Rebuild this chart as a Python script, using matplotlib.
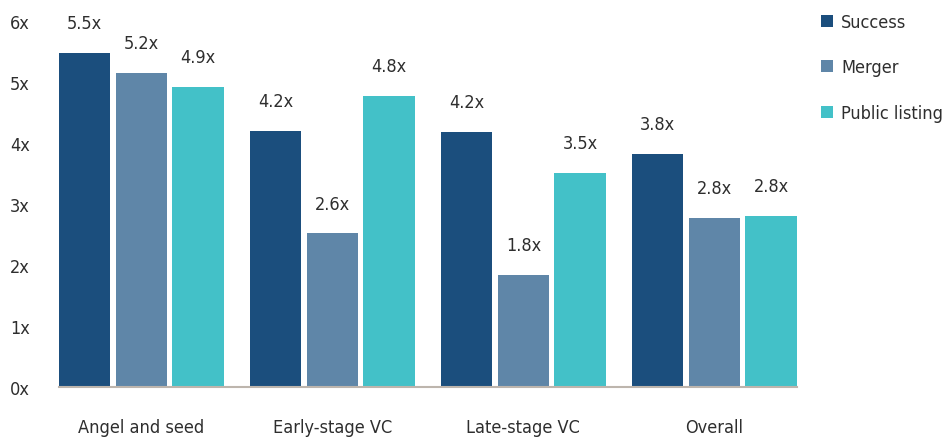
import matplotlib.pyplot as plt
import numpy as np

plt.rcParams['font.family'] = ['DejaVu Sans']
plt.rcParams['font.stretch'] = 'condensed'

categories = ['Angel and seed', 'Early-stage VC', 'Late-stage VC', 'Overall']
series = ['Success', 'Merger', 'Public listing']
success = [5.48, 4.2, 4.18, 3.82]
merger = [5.15, 2.52, 1.84, 2.77]
public = [4.92, 4.77, 3.51, 2.80]
success_lbl = ['5.5x', '4.2x', '4.2x', '3.8x']
merger_lbl = ['5.2x', '2.6x', '1.8x', '2.8x']
public_lbl = ['4.9x', '4.8x', '3.5x', '2.8x']
colors = ['#1b4e7d', '#5f86a8', '#43c1c8']

fig = plt.figure(figsize=(9.53, 4.39), dpi=100)
ax = fig.add_axes([0.062, 0.116, 0.774, 0.834])

x = np.arange(len(categories))
step = 0.297
w = 0.27
txt = '#2e2e2e'
for i, (vals, lbls) in enumerate(zip([success, merger, public],
                                     [success_lbl, merger_lbl, public_lbl])):
    pos = x + (i - 1) * step
    ax.bar(pos, vals, w, color=colors[i], label=series[i])
    for p, v, l in zip(pos, vals, lbls):
        ax.text(p, v + 0.34, l, ha='center', va='bottom', fontsize=13, color=txt)

ax.set_xlim(-0.431, 3.431)
ax.set_ylim(0, 6)
ax.set_yticks(range(7))
ax.set_yticklabels([f'{i}x' for i in range(7)])
ax.set_xticks(x)
ax.set_xticklabels(categories)
ax.tick_params(axis='y', length=0, pad=21, labelsize=13, labelcolor=txt)
ax.tick_params(axis='x', length=0, pad=22, labelsize=13, labelcolor=txt)
for s in ['top', 'right', 'left']:
    ax.spines[s].set_visible(False)
ax.spines['bottom'].set_color('#bdb5ad')
ax.spines['bottom'].set_linewidth(1.5)

fig.legend(loc='upper left', bbox_to_anchor=(0.862, 0.968), frameon=False,
           borderpad=0, borderaxespad=0,
           fontsize=13, handlelength=0.65, handleheight=0.65, handletextpad=0.45,
           labelspacing=1.52, labelcolor=txt)

fig.savefig('out.png', dpi=100)
